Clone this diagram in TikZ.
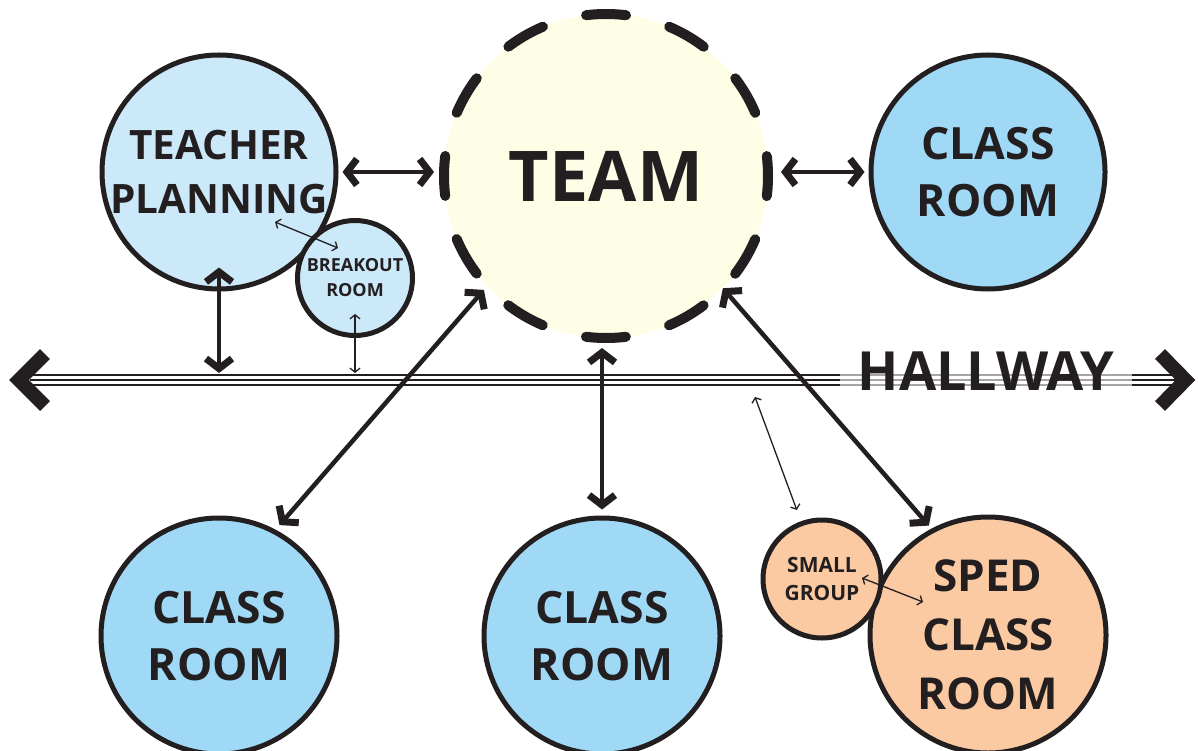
\documentclass[tikz,border=0pt]{standalone}
\usepackage{fontspec}
\setmainfont{Open Sans}
\usetikzlibrary{arrows.meta}
\definecolor{ink}{HTML}{231F20}
\definecolor{paleblue}{HTML}{CCE9F9}
\definecolor{roomblue}{HTML}{9FD9F6}
\definecolor{teamyellow}{HTML}{FEFDE5}
\definecolor{peach}{HTML}{FBCAA2}
\begin{document}
\begin{tikzpicture}[x=1pt,y=-1pt,
  room/.style={circle, draw=ink, line width=5pt, inner sep=0pt, align=center, text=ink},
  bigfont/.style={font=\bfseries\fontsize{44.5}{57}\selectfont},
  bigarrow/.style={draw=ink, line width=4.5pt,
    {Straight Barb[length=10pt,width=26pt,line width=7pt]}-{Straight Barb[length=10pt,width=26pt,line width=7pt]}},
  thinarrow/.style={draw=ink, line width=1.3pt,
    {Straight Barb[length=4pt,width=10pt]}-{Straight Barb[length=4pt,width=10pt]}},
  hallline/.style={draw=ink, line width=2.2pt},
  chevron/.style={draw=ink, line width=14pt, miter limit=10}
]
\useasboundingbox (0,0) rectangle (1198,751);

% rooms
\node[room, fill=teamyellow, line width=10pt, line cap=round,
      dash pattern=on 40pt off 44.82pt, dash phase=20pt,
      minimum size=324pt, font=\bfseries\fontsize{70}{80}\selectfont] (team) at (606,176) {TEAM};
\node[room, fill=paleblue, minimum size=234pt, font=\bfseries\fontsize{40.5}{54}\selectfont] (tp) at (219,172) {TEACHER\\PLANNING};
\node[room, fill=paleblue, minimum size=115pt, font=\bfseries\fontsize{18}{25}\selectfont] (brk) at (355,278) {BREAKOUT\\ROOM};
\node[room, fill=roomblue, minimum size=234pt, bigfont] (cr1) at (988,172) {CLASS\\ROOM};
\node[room, fill=roomblue, minimum size=236pt, bigfont] (cr2) at (219,636) {CLASS\\ROOM};
\node[room, fill=roomblue, minimum size=236pt, bigfont] (cr3) at (602,636) {CLASS\\ROOM};
\node[room, fill=peach, minimum size=236pt, font=\bfseries\fontsize{44}{59}\selectfont] (sped) at (988,635) {SPED\\CLASS\\ROOM};
\node[room, fill=peach, minimum size=118pt, font=\bfseries\fontsize{21}{28}\selectfont] (sg) at (822,579) {SMALL\\GROUP};

% hallway
\coordinate (hallL) at (30,380);
\coordinate (hallR) at (1178,380);
\draw[hallline] ([yshift=-4.8pt]hallL) -- ([yshift=-4.8pt]hallR);
\draw[hallline] (hallL) -- (hallR);
\draw[hallline] ([yshift=4.8pt]hallL) -- ([yshift=4.8pt]hallR);
\draw[chevron] (45,354) -- (19,380) -- (45,406);
\draw[chevron] (1160,354) -- (1185.5,380) -- (1160,406);
\node[fill=white, fill opacity=0.6, text opacity=1, text=ink, inner xsep=18pt, inner ysep=2pt,
      font=\bfseries\fontsize{54}{60}\selectfont] (hall) at (986,371) {HALLWAY};

% connectors
\coordinate (hA) at (219,373);
\coordinate (hB) at (355,373);
\coordinate (hC) at (755,397);
\draw[bigarrow, shorten <=4pt, shorten >=5pt] (tp.east) -- (tp.east -| team.west);
\draw[bigarrow, shorten <=8pt, shorten >=4pt] (team.east |- cr1.west) -- (cr1.west);
\draw[bigarrow, shorten <=-24pt] (tp.south) -- (hA);
\draw[bigarrow, shorten >=6pt] (team.223) -- (cr2.62);
\draw[bigarrow, shorten <=5pt, shorten >=6pt] (team.south -| cr3.north) -- (cr3.north);
\draw[bigarrow, shorten <=-5pt, shorten >=4pt] (team.-44.5) -- (sped.118);
\draw[thinarrow, shorten <=-24pt] (brk.south) -- (hB);
\draw[thinarrow] ([shift={(56,50)}]tp.center) -- ([shift={(-17,-30)}]brk.center);
\draw[thinarrow, shorten >=12pt] (hC) -- (sg.110.5);
\draw[thinarrow] ([shift={(40,-1)}]sg.center) -- ([shift={(-65,-33)}]sped.center);
\end{tikzpicture}
\end{document}
